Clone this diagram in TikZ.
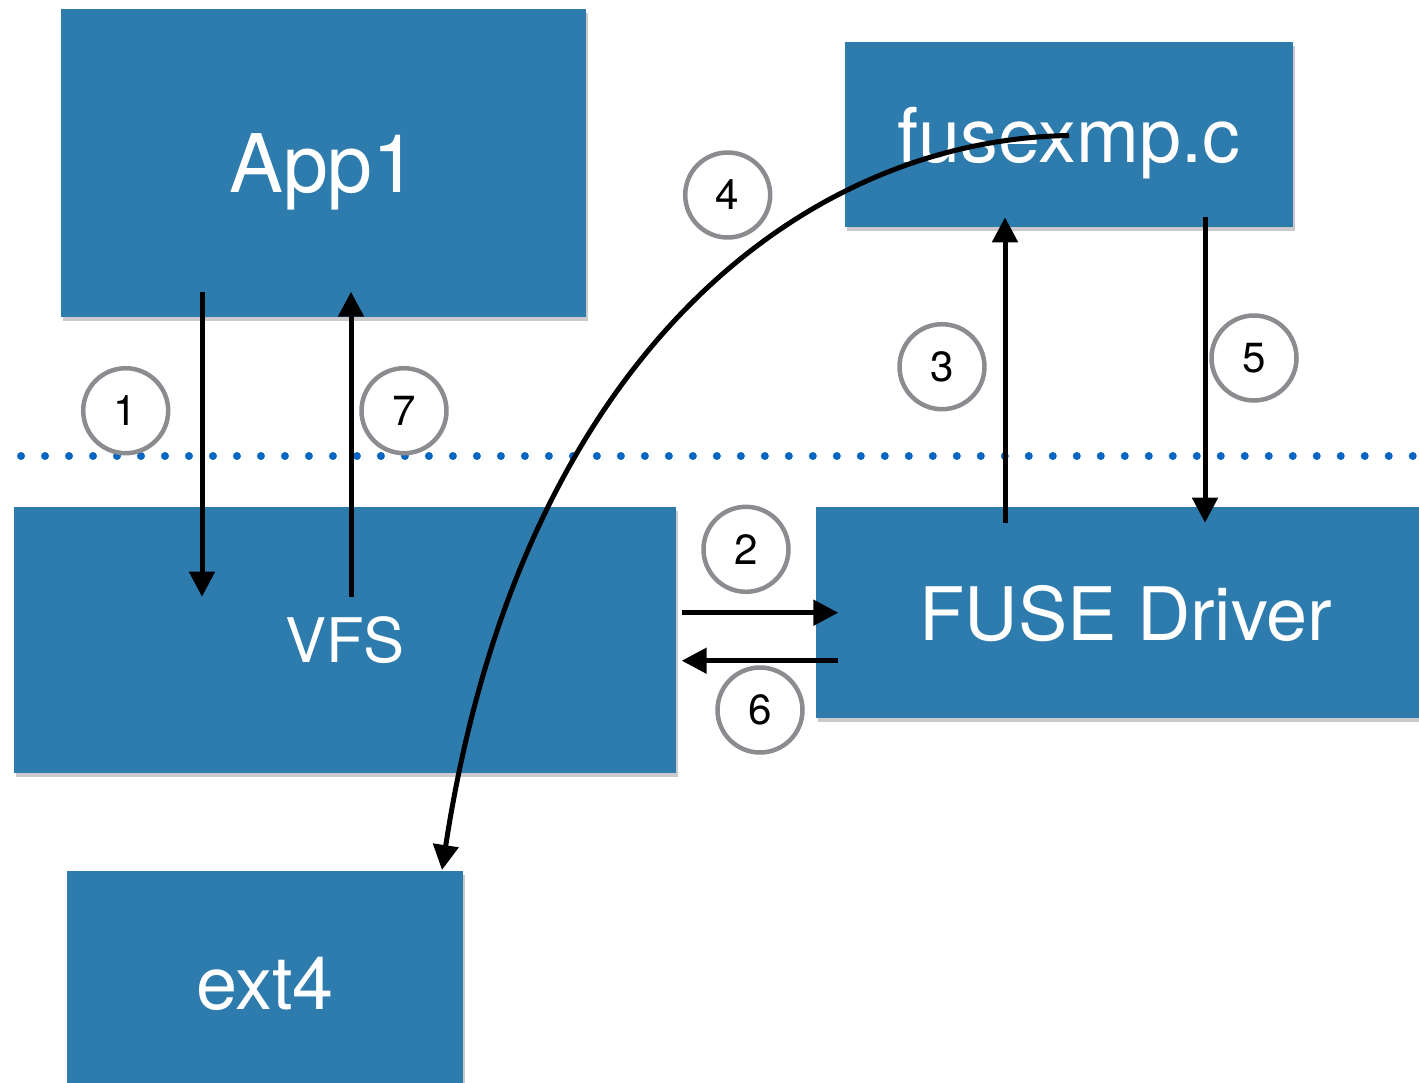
\documentclass[tikz,border=0pt]{standalone}
\usepackage{fontspec}
\setmainfont{TeX Gyre Heros}
\usepackage{tikz}
\usetikzlibrary{positioning, arrows.meta}
\usetikzlibrary{shadows}

\definecolor{boxblue}{RGB}{46,123,173}
\definecolor{dotblue}{RGB}{10,102,194}
\definecolor{ringgray}{RGB}{138,140,143}

\tikzset{
    layer/.style={rectangle, fill=boxblue, text=white, inner sep=0pt, text depth=0pt,
        drop shadow={shadow xshift=0.4mm, shadow yshift=-0.8mm, opacity=0.35, fill=black!60}},
    numcircle/.style={circle, draw=ringgray, line width=0.09cm, fill=white,
        minimum size=1.7cm, inner sep=0pt, font=\fontsize{24}{26}\selectfont},
    flow/.style={line width=0.1cm, -{Triangle[length=0.5cm, width=0.5cm]}},
    divider/.style={dotblue, line width=0.16cm, line cap=round, dash pattern=on 0pt off 0.48cm}
}

\begin{document}
\begin{tikzpicture}[x=0.02cm, y=-0.02cm]
        \useasboundingbox (0,0) rectangle (1419,1082);

        % Boxes
        \node [layer, minimum width=10.5cm, minimum height=6.16cm, font=\fontsize{46}{48}\selectfont] (app) at (323.5,163) {App1};
        \node [layer, minimum width=8.96cm, minimum height=3.7cm, font=\fontsize{43}{45}\selectfont] (fusexmp) at (1069,134.5) {fusexmp.c};
        \node [layer, minimum width=13.24cm, minimum height=5.32cm, font=\fontsize{35}{37}\selectfont] (vfs) at (345,640) {VFS};
        \node [layer, minimum width=12.4cm, minimum height=4.22cm, font=\fontsize{42}{44}\selectfont] (fuse) at (1126,612.5) {FUSE Driver};
        \node [layer, minimum width=7.92cm, minimum height=4.48cm, font=\fontsize{42}{44}\selectfont] (ext) at (265,983) {ext4};

        % Dotted line between user and kernel space
        \coordinate (divl) at (21,456);
        \coordinate (divr) at (1425,456);
        \draw [divider] (divl) -- (divr);

        % Arrow end points
        \coordinate (a1s) at (202,291.7);
        \coordinate (a1e) at (202,596.7);
        \coordinate (a7s) at (351,596.7);
        \coordinate (a7e) at (351,291.7);
        \coordinate (a3s) at (1005,522.7);
        \coordinate (a3e) at (1005,217.3);
        \coordinate (a5s) at (1205,217.3);
        \coordinate (a5e) at (1205,522.7);
        \coordinate (a2s) at (681.7,612.7);
        \coordinate (a2e) at (838.3,612.7);
        \coordinate (a6s) at (838.3,660.7);
        \coordinate (a6e) at (681.7,660.7);
        \coordinate (a4s) at (1069,135.5);
        \coordinate (a4e) at (442,870);

        % Arrows
        \draw [flow] (a1s) -- (a1e);
        \draw [flow] (a7s) -- (a7e);
        \draw [flow] (a3s) -- (a3e);
        \draw [flow] (a5s) -- (a5e);
        \draw [flow] (a2s) -- (a2e);
        \draw [flow] (a6s) -- (a6e);
        \draw [flow] (a4s) .. controls (800,140) and (520,360) .. (a4e);

        % Step numbers
        \foreach \n/\x/\y in {1/125.7/410.7, 2/746/549.3, 3/942/366.7, 4/727.7/195, 5/1254/358, 6/760/710, 7/404/410.7}
        {
        \node [numcircle] (c\n) at (\x,\y) {\n};
        }
\end{tikzpicture}
\end{document}
